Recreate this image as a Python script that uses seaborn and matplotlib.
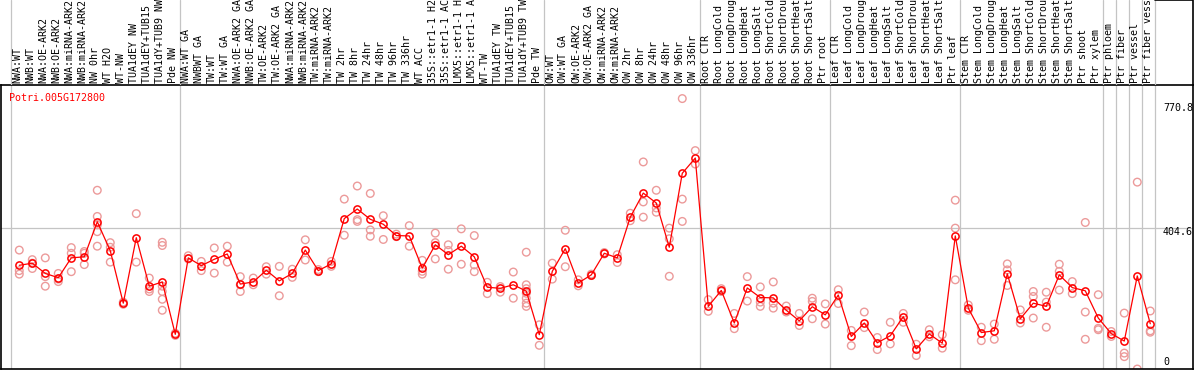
import numpy as np
import pandas as pd
import matplotlib
matplotlib.use('Agg')
import matplotlib.pyplot as plt
import seaborn as sns

# ── data ───────────────────────────────────────────────────────────────────────
gene_id = 'Potri.005G172800'

samples = [
    'NWA:WT', 'NWB:WT', 'NWA:OE-ARK2', 'NWB:OE-ARK2', 'NWA:miRNA-ARK2', 'NWB:miRNA-ARK2',
    'NW 0hr', 'WT H2O', 'WT-NW', 'TUA1dEY NW', 'TUA1dEY+TUB15 NW', 'TUA1dY+TUB9 NW', 'Pde NW',
    'NWA:WT GA', 'NWBWT GA', 'TW:WT', 'TW:WT GA', 'NWA:OE-ARK2 GA', 'NWB:OE-ARK2 GA',
    'TW:OE-ARK2', 'TW:OE-ARK2 GA', 'NWA:miRNA-ARK2', 'NWB:miRNA-ARK2', 'TW:miRNA-ARK2',
    'TW:miRNA-ARK2', 'TW 2hr', 'TW 8hr', 'TW 24hr', 'TW 48hr', 'TW 96hr', 'TW 336hr', 'WT ACC',
    '35S::etr1-1 H2O', '35S::etr1-1 ACC', 'LMX5::etr1-1 H2O', 'LMX5::etr1-1 ACC', 'WT-TW',
    'TUA1dEY TW', 'TUA1dEY+TUB15 TW', 'TUA1dY+TUB9 TW', 'Pde TW',
    'OW:WT', 'OW:WT GA', 'OW:OE-ARK2', 'OW:OE-ARK2 GA', 'OW:miRNA-ARK2', 'OW:miRNA-ARK2',
    'OW 2hr', 'OW 8hr', 'OW 24hr', 'OW 48hr', 'OW 96hr', 'OW 336hr',
    'Root CTR', 'Root LongCold', 'Root LongDrought', 'Root LongHeat', 'Root LongSalt',
    'Root ShortCold', 'Root ShortDrought', 'Root ShortHeat', 'Root ShortSalt', 'Ptr root',
    'Leaf CTR', 'Leaf LongCold', 'Leaf LongDrought', 'Leaf LongHeat', 'Leaf LongSalt',
    'Leaf ShortCold', 'Leaf ShortDrought', 'Leaf ShortHeat', 'Leaf ShortSalt', 'Ptr leaf',
    'Stem CTR', 'Stem LongCold', 'Stem LongDrought', 'Stem LongHeat', 'Stem LongSalt',
    'Stem ShortCold', 'Stem ShortDrought', 'Stem ShortHeat', 'Stem ShortSalt', 'Ptr shoot',
    'Ptr xylem', 'Ptr phloem', 'Ptr fiber', 'Ptr vessel', 'Ptr fiber vessel',
]

# number of samples between the grey separator lines
group_sizes = [13, 28, 12, 10, 10, 11, 1, 1, 1, 1]

means = [
    300, 306, 277, 265, 321, 324, 423, 341, 193, 378, 241, 253, 105,
    321, 299, 317, 332, 247, 253, 286, 256, 277, 343, 285, 304, 432, 459, 430, 416, 384,
    383, 292, 358, 330, 354, 324, 238, 235, 245, 227, 104,
    283, 347, 250, 273, 334, 321, 436, 504, 476, 351, 560, 603,
    184, 229, 137, 236, 209, 208, 173, 143, 183, 160,
    216, 99, 137, 81, 101, 155, 64, 106, 80, 383,
    179, 110, 115, 276, 149, 193, 184, 273, 237, 228, 151,
    107, 86, 270, 135,
]

replicates = [
    [343, 285, 275], [316, 306, 291], [321, 268, 241], [277, 261, 254], [350, 334, 282],
    [339, 334, 302], [512, 438, 414, 395, 354], [364, 351, 309], [196, 190], [446, 309],
    [264, 233, 226], [365, 356, 241, 226, 204, 173], [108, 102],
    [327, 318], [311, 285], [349, 278], [354, 309], [268, 245, 226], [264, 245], [296, 275],
    [297, 214], [289, 266], [372, 315], [288, 282], [311, 297], [487, 385], [524, 429, 424],
    [503, 400, 382], [440, 373], [388, 381], [412, 354], [314, 283, 275], [391, 364, 318],
    [358, 342, 289], [403, 303], [384, 301, 282], [252, 220], [240, 224], [281, 207],
    [337, 245, 234, 221, 207, 193, 184], [132, 74],
    [306, 261], [399, 296], [259, 242], [275, 271], [336, 332], [330, 308], [447, 426],
    [592, 479, 436], [512, 462, 450], [405, 375, 269], [771, 487, 424], [624, 586],
    [203, 170], [234, 226], [164, 121], [268, 199], [239, 196, 184], [253, 193, 179],
    [185, 168], [164, 130], [207, 198, 149], [191, 134],
    [231, 192], [116, 73], [168, 124], [96, 62], [139, 78], [164, 139], [77, 45], [118, 98],
    [104, 66], [484, 405, 259],
    [188, 173], [125, 87], [134, 91], [304, 287, 243], [174, 137], [226, 212, 151],
    [224, 196, 125], [303, 283, 230], [254, 220], [421, 168, 91], [217, 122, 118],
    [113, 99], [165, 52, 42], [535, 7], [171, 115, 111],
]

y_ticks = [0, 404.6, 770.8]

# ── frames for seaborn ─────────────────────────────────────────────────────────
POS = 0.66   # where the point sits inside its slot
df_mean = pd.DataFrame({'slot': np.arange(len(samples)) + POS, 'value': means})
df_rep = pd.DataFrame(
    [(i + POS, v) for i, vals in enumerate(replicates) for v in vals],
    columns=['slot', 'value'],
)
bounds = np.concatenate([[0], np.cumsum(group_sizes)])

# ── figure ─────────────────────────────────────────────────────────────────────
sns.set_theme(style='white')
plt.rcParams['font.family'] = ['DejaVu Sans Mono']

W, H = 1194, 370
fig = plt.figure(figsize=(W / 100, H / 100), dpi=100)

# pixel geometry of the original chart
px_left, px_right, px_top, px_bottom = 1, 1193, 85, 369
slot0, slot_w = 10.7, 13.0
xlim = ((px_left - slot0) / slot_w, (px_right - slot0) / slot_w)
ylim = ((371.5 - px_bottom) * 2.825, (371.5 - px_top) * 2.825)

ax = fig.add_axes([px_left / W, (H - px_bottom) / H,
                   (px_right - px_left) / W, (px_bottom - px_top) / H])
ax_lab = fig.add_axes([px_left / W, (H - px_top) / H,
                       (px_right - px_left) / W, px_top / H])

grey = '#c4c4c4'
for b in bounds:
    ax.axvline(b, color=grey, lw=0.9, zorder=0)
    ax_lab.axvline(b, color=grey, lw=0.9, zorder=0)
ax.axhline(y_ticks[1], color=grey, lw=0.9, zorder=0)

sns.scatterplot(data=df_rep, x='slot', y='value', ax=ax, marker='o',
                facecolor='none', edgecolor='#ec9a9a', linewidth=1.0, s=30, zorder=2)
sns.lineplot(data=df_mean, x='slot', y='value', ax=ax, sort=False, color='red', lw=0.9,
             marker='o', markersize=5.2, markerfacecolor='none', markeredgecolor='red',
             markeredgewidth=1.1, zorder=3)

ax.set_xlim(*xlim)
ax.set_ylim(*ylim)
ax.set_xlabel('')
ax.set_ylabel('')
ax.set_xticks([])
ax.set_yticks([])
for s in ax.spines.values():
    s.set_color('black')
    s.set_linewidth(1.2)

ax.text(0.0065, 0.955, gene_id, transform=ax.transAxes, color='red', fontsize=7.2,
        ha='left', va='center')

# value labels on the right
tick_x = (1163 - slot0) / slot_w
offsets = {0: (0, 7), 1: (0, -2.5), 2: (0, -6.8)}
for i, t in enumerate(y_ticks):
    lab = f'{t:g}'
    ax.annotate(lab, xy=(tick_x, t), xytext=offsets[i], textcoords='offset points',
                ha='left', va='center', fontsize=7.2, color='black', annotation_clip=False)

# rotated sample names above the plot
ax_lab.set_xlim(*xlim)
ax_lab.set_ylim(0, 1)
ax_lab.axis('off')
for i, name in enumerate(samples):
    ax_lab.text(i + 0.5, 2 / px_top, name, rotation=90, ha='center', va='bottom',
                fontsize=7.2, color='black')
# small empty box in the top-right corner
ax_lab.plot([bounds[-1], xlim[1], xlim[1]], [0.995, 0.995, 0], color='black', lw=1.2,
            clip_on=False)

fig.savefig('out.png', dpi=100)
